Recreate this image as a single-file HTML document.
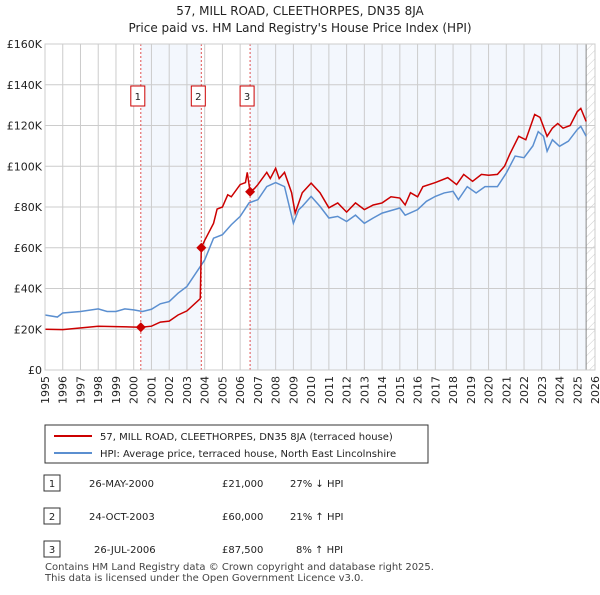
<!DOCTYPE html>
<html><head><meta charset="utf-8"><style>
body{margin:0;background:#fff;font-family:"Liberation Sans","DejaVu Sans",sans-serif;}
svg text{font-family:"DejaVu Sans","Liberation Sans",sans-serif;}
</style></head><body>
<svg id="c" width="600" height="590" xmlns="http://www.w3.org/2000/svg">
<defs><pattern id="hatch" width="6" height="6" patternUnits="userSpaceOnUse" patternTransform="rotate(45)"><line x1="0" y1="0" x2="0" y2="6" stroke="#ccc" stroke-width="1"/></pattern></defs>
<text x="300" y="15" text-anchor="middle" font-size="12" fill="#222">57, MILL ROAD, CLEETHORPES, DN35 8JA</text>
<text x="300" y="32" text-anchor="middle" font-size="12" fill="#222">Price paid vs. HM Land Registry's House Price Index (HPI)</text>
<g id="plot"></g>
<g>
<rect x="45" y="425" width="383" height="38" fill="#fff" stroke="#333"/>
<line x1="54" y1="436" x2="92" y2="436" stroke="#cc0000" stroke-width="2"/>
<text x="100" y="440" font-size="10" fill="#222">57, MILL ROAD, CLEETHORPES, DN35 8JA (terraced house)</text>
<line x1="54" y1="453" x2="92" y2="453" stroke="#5b8fd0" stroke-width="2"/>
<text x="100" y="457" font-size="10" fill="#222">HPI: Average price, terraced house, North East Lincolnshire</text>
</g>
<g font-size="10" fill="#222">
<rect x="44" y="475" width="16" height="16" fill="#fff" stroke="#333"/><text x="52" y="487" text-anchor="middle">1</text>
<text x="89" y="487">26-MAY-2000</text><text x="222" y="487">£21,000</text><text x="290" y="487">27% ↓ HPI</text>
<rect x="44" y="508" width="16" height="16" fill="#fff" stroke="#333"/><text x="52" y="520" text-anchor="middle">2</text>
<text x="89" y="520">24-OCT-2003</text><text x="222" y="520">£60,000</text><text x="290" y="520">21% ↑ HPI</text>
<rect x="44" y="541" width="16" height="16" fill="#fff" stroke="#333"/><text x="52" y="553" text-anchor="middle">3</text>
<text x="94" y="553">26-JUL-2006</text><text x="222" y="553">£87,500</text><text x="296" y="553">8% ↑ HPI</text>
</g>
<text x="45" y="570" font-size="10" fill="#444">Contains HM Land Registry data © Crown copyright and database right 2025.</text>
<text x="45" y="581" font-size="10" fill="#444">This data is licensed under the Open Government Licence v3.0.</text>
</svg>
<script>
const hpiYears=[1995,1995.7,1996,1997,1998,1998.5,1999,1999.5,2000,2000.5,2001,2001.5,2002,2002.5,2003,2003.5,2004,2004.5,2005,2005.5,2006,2006.5,2007,2007.5,2008,2008.5,2009,2009.3,2009.5,2010,2010.5,2011,2011.5,2012,2012.5,2013,2013.5,2014,2015,2015.3,2016,2016.5,2017,2017.5,2018,2018.3,2018.8,2019.3,2019.8,2020.5,2021,2021.5,2022,2022.5,2022.8,2023.1,2023.3,2023.6,2024,2024.5,2025,2025.2,2025.5];
const hpiVals=[27,26,28,28.7,30,28.7,28.7,30,29.5,28.7,29.8,32.5,33.6,37.7,41,47.5,54,64.7,66.4,71.3,75.4,82,83.6,90,92,90,72,78.7,80.3,85.2,80.3,74.6,75.4,72.9,76,72,74.6,77,79.5,76,78.7,82.8,85.2,86.9,87.7,83.6,90,86.9,90,90,96.7,105,104.2,110,117,114.7,107.4,113,109.8,112.3,118,119.6,114.7];
const priceYears=[1995,1996,1998,2000.4,2001,2001.5,2002,2002.5,2003,2003.75,2003.81,2004,2004.5,2004.7,2005,2005.3,2005.5,2006,2006.3,2006.4,2006.56,2006.8,2007,2007.5,2007.7,2008,2008.2,2008.5,2008.9,2009.1,2009.5,2010,2010.5,2011,2011.5,2012,2012.5,2013,2013.5,2014,2014.5,2015,2015.3,2015.6,2016,2016.3,2017,2017.7,2018.2,2018.6,2019.1,2019.6,2020,2020.5,2020.9,2021.2,2021.7,2022.1,2022.6,2022.9,2023.3,2023.6,2023.9,2024.2,2024.6,2025,2025.2,2025.5];
const priceVals=[20,19.8,21.5,21,21.5,23.5,24,27,29,35,60,63.6,72,79,80,86,85,91,92,97,87.5,89,91,97,94,99,94,97,87,77,87,91.7,87,79.6,82,77.5,82,78.7,81,82,85,84.4,81,87,85,90,92,94.4,91,96,92.6,96,95.6,96,100,106,114.7,113,125.4,124,114.7,118.7,121,118.7,120,126.8,128.4,122];
const saleYears=[2000.4,2003.81,2006.56];
const saleVals=[21,60,87.5];
const saleLabels=["1","2","3"];
const yTicks=[0,20,40,60,80,100,120,140,160];
const L=45,R=595,T=44,B=370,Y0=1995,Y1=2026;
const X=y=>L+(y-Y0)/(Y1-Y0)*(R-L);
const Y=v=>B-v/160*(B-T);
const NS="http://www.w3.org/2000/svg";
const g=document.getElementById('plot');
function mk(t,a){const e=document.createElementNS(NS,t);for(const k in a)e.setAttribute(k,a[k]);g.appendChild(e);return e;}
let e;
e=mk('rect',{x:L,y:T,width:R-L,height:B-T,fill:'#fff'});


e=mk('rect',{x:X(saleYears[0]),y:T,width:X(saleYears[1])-X(saleYears[0]),height:B-T,fill:'#eef3fc',opacity:0.7});


e=mk('rect',{x:X(saleYears[2]),y:T,width:X(2025.5)-X(saleYears[2]),height:B-T,fill:'#eef3fc',opacity:0.7});


e=mk('rect',{x:X(2025.5),y:T,width:R-X(2025.5),height:B-T,fill:'url(#hatch)'});


for(let yr=Y0;yr<=Y1;yr++){
 e=mk('line',{x1:X(yr),x2:X(yr),y1:T,y2:B,stroke:'#ccc','stroke-width':1});
 
 
 const tx=X(yr)+4,ty=B+6;
 e=mk('text',{x:tx,y:ty,'font-size':11,fill:'#222','text-anchor':'end',transform:`rotate(-90 ${tx} ${ty})`});
 e.textContent=yr;
 
 
}
yTicks.forEach(v=>{
 e=mk('line',{x1:L,x2:R,y1:Y(v),y2:Y(v),stroke:'#ccc','stroke-width':1});
 
 
 e=mk('text',{x:L-3,y:Y(v)+4,'font-size':11,fill:'#222','text-anchor':'end'});
 e.textContent=v===0?'£0':'£'+v+'K';
 
 
});
e=mk('line',{x1:X(2025.5),x2:X(2025.5),y1:T,y2:B,stroke:'#888','stroke-width':1});


saleYears.forEach((s,i)=>{
 e=mk('line',{x1:X(s),x2:X(s),y1:T,y2:B,stroke:'#e05050','stroke-width':1,'stroke-dasharray':'2,2'});
 
 
 e=mk('rect',{x:X(s)-10,y:86,width:14,height:20,fill:'#fff',stroke:'#cc0000','stroke-width':1});
 
 
 e=mk('text',{x:X(s)-3,y:100,'font-size':10,fill:'#222','text-anchor':'middle'});
 e.textContent=saleLabels[i];
 
 
});
e=mk('polyline',{points:hpiYears.map((y,i)=>X(y)+','+Y(hpiVals[i])).join(' '),fill:'none',stroke:'#5b8fd0','stroke-width':1.5});


e=mk('polyline',{points:priceYears.map((y,i)=>X(y)+','+Y(priceVals[i])).join(' '),fill:'none',stroke:'#cc0000','stroke-width':1.5});


saleYears.forEach((s,i)=>{
 const cx=X(s),cy=Y(saleVals[i]);
 e=mk('polygon',{points:`${cx},${cy-5} ${cx+5},${cy} ${cx},${cy+5} ${cx-5},${cy}`,fill:'#cc0000'});
 
 
});
e=mk('rect',{x:L,y:T,width:R-L,height:B-T,fill:'none',stroke:'#ccc'});


</script>
</body></html>
